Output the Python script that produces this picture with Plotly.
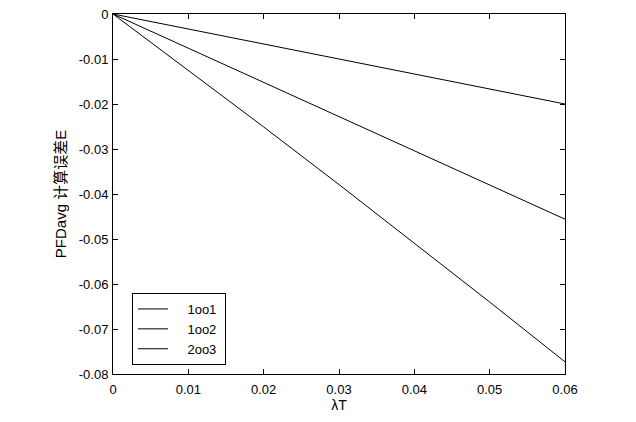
import plotly.graph_objects as go

lambda_T = [0, 0.01, 0.02, 0.03, 0.04, 0.05, 0.06]
e_1oo1 = [0, -0.00333, -0.00667, -0.0100, -0.01333, -0.01667, -0.0200]
e_1oo2 = [0, -0.0076, -0.0152, -0.0228, -0.0304, -0.0380, -0.0456]
e_2oo3 = [0, -0.01246, -0.0251, -0.0379, -0.0509, -0.0640, -0.0773]
series_names = ["1oo1", "1oo2", "2oo3"]

x_ticks = [0, 0.01, 0.02, 0.03, 0.04, 0.05, 0.06]
x_ticklabels = ["0", "0.01", "0.02", "0.03", "0.04", "0.05", "0.06"]
y_ticks = [0, -0.01, -0.02, -0.03, -0.04, -0.05, -0.06, -0.07, -0.08]
y_ticklabels = ["0", "-0.01", "-0.02", "-0.03", "-0.04", "-0.05", "-0.06", "-0.07", "-0.08"]

fig = go.Figure()
for name, ys in zip(series_names, [e_1oo1, e_1oo2, e_2oo3]):
    fig.add_trace(go.Scatter(x=lambda_T, y=ys, mode="lines",
                             name="\u00a0\u00a0\u00a0\u00a0" + name + "\u00a0",
                             legendgroup=name, line=dict(color="black", width=1)))

axis_common = dict(showgrid=False, zeroline=False, showline=True, linecolor="black",
                   linewidth=1, mirror="ticks", ticks="inside", ticklen=5,
                   tickcolor="black", ticklabeloverflow="allow", automargin=False,
                   tickfont=dict(family="Liberation Sans, Arial", size=13, color="black"))

fig.update_layout(
    width=636, height=422,
    margin=dict(l=105, r=79, t=6, b=56),
    paper_bgcolor="white", plot_bgcolor="white",
    font=dict(family="Liberation Sans, Arial, Noto Sans CJK SC", size=12, color="black"),
    xaxis=dict(range=[0, 0.06], tickvals=x_ticks, ticktext=x_ticklabels,
               ticklabelstandoff=3,
               title=dict(text="λT", standoff=2, font=dict(size=14)), **axis_common),
    yaxis=dict(range=[-0.08, 0], tickvals=y_ticks, ticktext=y_ticklabels,
               ticklabelstandoff=1,
               title=dict(text="PFDavg 计算误差E", standoff=8,
                          font=dict(family="Liberation Sans, Noto Sans CJK SC", size=15)),
               **axis_common),
    legend=dict(x=0.042, y=0.225, xanchor="left", yanchor="top",
                bordercolor="black", borderwidth=1, bgcolor="white",
                font=dict(size=13), tracegroupgap=0),
    showlegend=True,
)

fig.write_html("out.html")
